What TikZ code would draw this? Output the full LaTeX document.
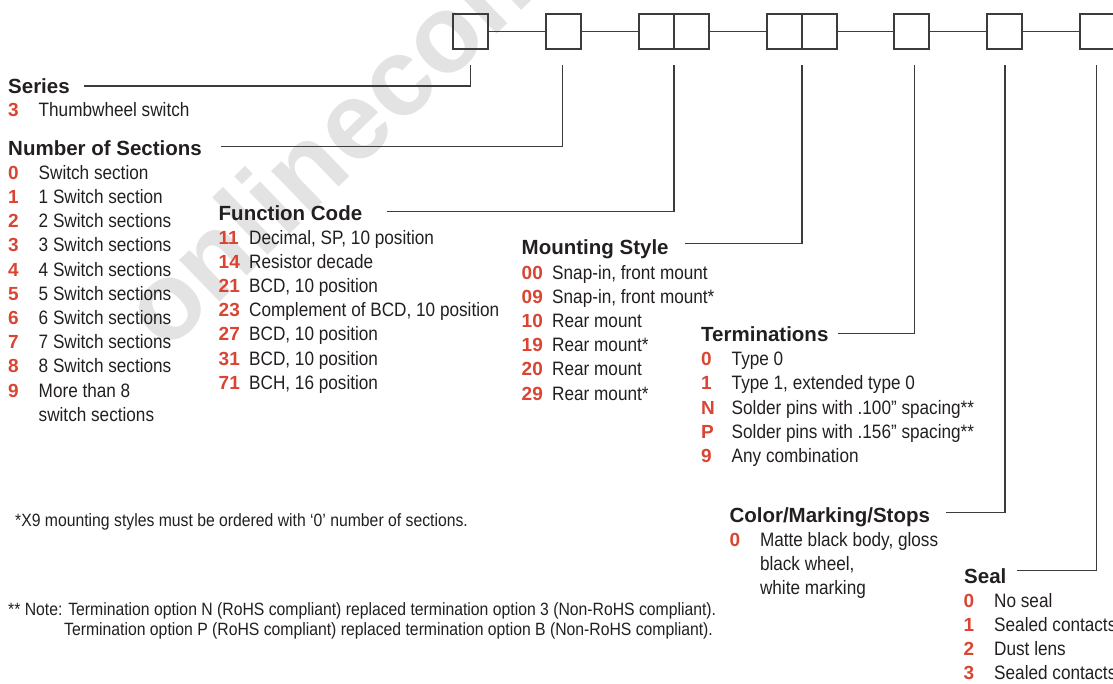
\documentclass[tikz,border=0pt]{standalone}
\usepackage{fontspec}
\setmainfont{Liberation Sans}
\newfontfamily\bodyfont{Liberation Sans}[FakeStretch=0.885]
\definecolor{catred}{RGB}{217,69,50}
\definecolor{ink}{RGB}{35,31,32}
\definecolor{rule}{RGB}{60,60,60}
\newcommand{\cnum}[1]{\makebox[30.5pt][l]{\normalfont\bfseries\fontsize{19}{24}\selectfont\color{catred}#1}}
\tikzset{
  hdr/.style={anchor=base west, inner sep=0pt, text=ink, font=\fontsize{20.5}{24}\selectfont\bfseries},
  item/.style={anchor=base west, inner sep=0pt, text=ink, font=\bodyfont\fontsize{19.4}{24.2}\selectfont},
  note/.style={anchor=base west, inner sep=0pt, text=ink, font=\bodyfont\fontsize{17.8}{20}\selectfont},
  pbox/.style={draw=rule, line width=1.3pt, minimum width=35pt, minimum height=35pt, inner sep=0pt},
  lead/.style={draw=rule, line width=1.2pt},
  wmark/.style={anchor=base west, inner sep=0pt, rotate=44, text=black!11, font=\fontsize{110}{110}\selectfont\bfseries}
}
\begin{document}
\begin{tikzpicture}[x=1pt,y=1pt]
\useasboundingbox (0,0) rectangle (1113,-683);
\clip (0,0) rectangle (1113,-683);
% watermark
\node[wmark] (wm) at (166,-354) {onlinecomponents.com};

% code boxes
\node[pbox] (b1) at (470.5,-31.5) {};
\node[pbox] (b2) at (563.5,-31.5) {};
\node[pbox] (b3a) at (656.5,-31.5) {};
\node[pbox] (b3b) at (691.5,-31.5) {};
\node[pbox] (b4a) at (784.5,-31.5) {};
\node[pbox] (b4b) at (819.5,-31.5) {};
\node[pbox] (b5) at (911.5,-31.5) {};
\node[pbox] (b6) at (1004.5,-31.5) {};
\node[pbox] (b7) at (1097.5,-31.5) {};
\draw[lead] (b1) -- (b2);
\draw[lead] (b2) -- (b3a);
\draw[lead] (b3b) -- (b4a);
\draw[lead] (b4b) -- (b5);
\draw[lead] (b5) -- (b6);
\draw[lead] (b6) -- (b7);

% headings
\node[hdr] (hSeries) at (8,-93.3) {Series};
\node[hdr] (hSec) at (8,-155) {Number of Sections};
\node[hdr] (hFunc) at (218.5,-220) {Function Code};
\node[hdr] (hMount) at (521.5,-254) {Mounting Style};
\node[hdr] (hTerm) at (701,-341) {Terminations};
\node[hdr] (hColor) at (729.3,-522.7) {Color/Marking/Stops};
\node[hdr] (hSeal) at (964,-583.3) {Seal};

% leader lines
\coordinate (sSeries) at (84,-86);     \coordinate (tSeries) at (470.5,-65);
\coordinate (sSec) at (220.7,-146.7);  \coordinate (tSec) at (562.5,-65);
\coordinate (sFunc) at (387,-211.7);   \coordinate (tFunc) at (674,-65);
\coordinate (sMount) at (685,-243.3);  \coordinate (tMount) at (802,-65);
\coordinate (sTerm) at (838,-333.3);   \coordinate (tTerm) at (914.3,-65);
\coordinate (sColor) at (946,-512.7);  \coordinate (tColor) at (1005,-65);
\coordinate (sSeal) at (1016.7,-570.7); \coordinate (tSeal) at (1096.7,-65);
\draw[lead] (sSeries) -| (tSeries);
\draw[lead] (sSec) -| (tSec);
\draw[lead] (sFunc) -| (tFunc);
\draw[lead] (sMount) -| (tMount);
\draw[lead] (sTerm) -| (tTerm);
\draw[lead] (sColor) -| (tColor);
\draw[lead] (sSeal) -| (tSeal);

% Series
\node[item] (se3) at (8,-116.7) {\cnum{3}Thumbwheel switch};

% Number of sections
\node[item] (ns0) at (8,-179.3) {\cnum{0}Switch section};
\node[item] (ns1) at (8,-203.5) {\cnum{1}1 Switch section};
\node[item] (ns2) at (8,-227.7) {\cnum{2}2 Switch sections};
\node[item] (ns3) at (8,-251.9) {\cnum{3}3 Switch sections};
\node[item] (ns4) at (8,-276.1) {\cnum{4}4 Switch sections};
\node[item] (ns5) at (8,-300.3) {\cnum{5}5 Switch sections};
\node[item] (ns6) at (8,-324.5) {\cnum{6}6 Switch sections};
\node[item] (ns7) at (8,-348.7) {\cnum{7}7 Switch sections};
\node[item] (ns8) at (8,-372.9) {\cnum{8}8 Switch sections};
\node[item] (ns9) at (8,-397.1) {\cnum{9}More than 8};
\node[item] (ns9b) at (38.5,-421.3) {switch sections};

% Function code
\node[item] (fc11) at (218.5,-244) {\cnum{11}Decimal, SP, 10 position};
\node[item] (fc14) at (218.5,-268.2) {\cnum{14}Resistor decade};
\node[item] (fc21) at (218.5,-292.4) {\cnum{21}BCD, 10 position};
\node[item] (fc23) at (218.5,-316.6) {\cnum{23}Complement of BCD, 10 position};
\node[item] (fc27) at (218.5,-340.8) {\cnum{27}BCD, 10 position};
\node[item] (fc31) at (218.5,-365) {\cnum{31}BCD, 10 position};
\node[item] (fc71) at (218.5,-389.2) {\cnum{71}BCH, 16 position};

% Mounting style
\node[item] (ms00) at (521.5,-279) {\cnum{00}Snap-in, front mount};
\node[item] (ms09) at (521.5,-303.2) {\cnum{09}Snap-in, front mount*};
\node[item] (ms10) at (521.5,-327.4) {\cnum{10}Rear mount};
\node[item] (ms19) at (521.5,-351.6) {\cnum{19}Rear mount*};
\node[item] (ms20) at (521.5,-375.8) {\cnum{20}Rear mount};
\node[item] (ms29) at (521.5,-400) {\cnum{29}Rear mount*};

% Terminations
\node[item] (tm0) at (701,-365.7) {\cnum{0}Type 0};
\node[item] (tm1) at (701,-389.9) {\cnum{1}Type 1, extended type 0};
\node[item] (tmN) at (701,-414.1) {\cnum{N}Solder pins with .100” spacing**};
\node[item] (tmP) at (701,-438.3) {\cnum{P}Solder pins with .156” spacing**};
\node[item] (tm9) at (701,-462.5) {\cnum{9}Any combination};

% Color / marking / stops
\node[item] (cm0) at (729.3,-546.3) {\cnum{0}Matte black body, gloss};
\node[item] (cm0b) at (759.8,-570.5) {black wheel,};
\node[item] (cm0c) at (759.8,-594.7) {white marking};

% Seal
\node[item] (sl0) at (963.5,-607) {\cnum{0}No seal};
\node[item] (sl1) at (963.5,-631.2) {\cnum{1}Sealed contacts};
\node[item] (sl2) at (963.5,-655.4) {\cnum{2}Dust lens};
\node[item] (sl3) at (963.5,-679.6) {\cnum{3}Sealed contacts};

% footnotes
\node[note] (fn1) at (15,-526) {*X9 mounting styles must be ordered with ‘0’ number of sections.};
\node[note] (fn2) at (8,-615) {** Note: Termination option N (RoHS compliant) replaced termination option 3 (Non-RoHS compliant).};
\node[note] (fn3) at (64,-635) {Termination option P (RoHS compliant) replaced termination option B (Non-RoHS compliant).};
\end{tikzpicture}
\end{document}
